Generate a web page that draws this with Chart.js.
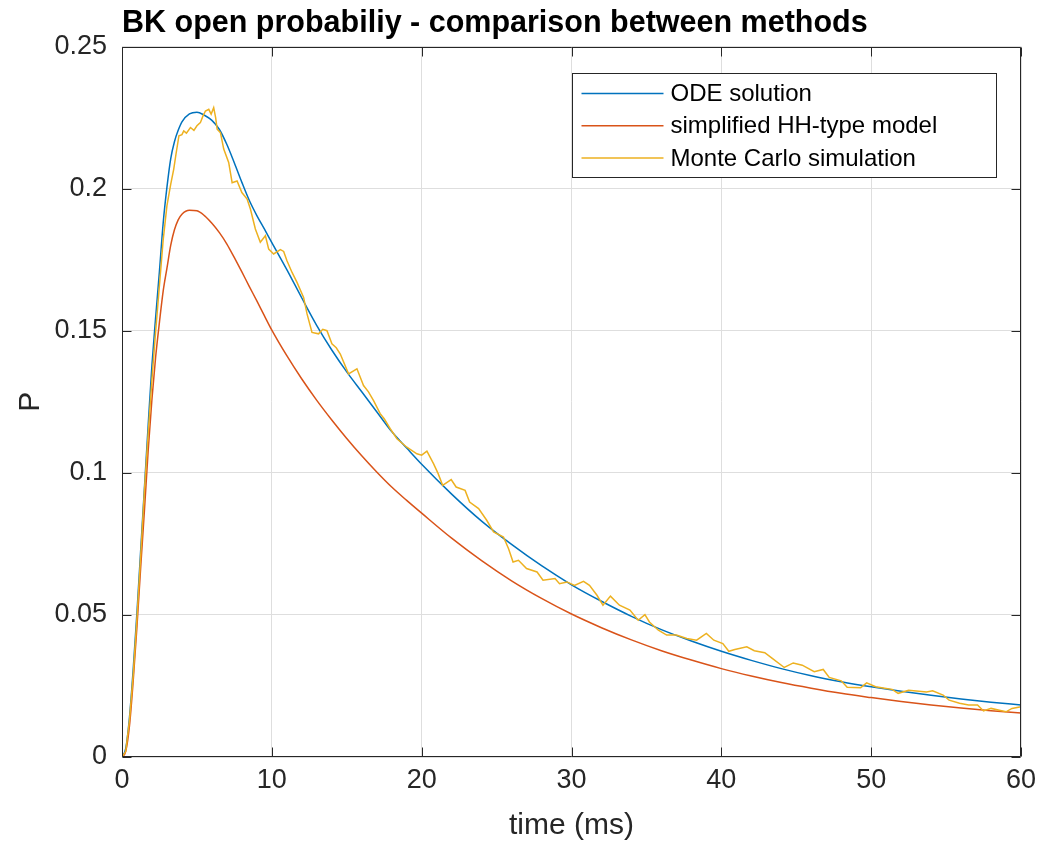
<!DOCTYPE html>
<html>
<head>
<meta charset="utf-8">
<title>BK open probability</title>
<script src="https://cdn.jsdelivr.net/npm/chart.js@4.4.1/dist/chart.umd.min.js"></script>
<style>
	html, body { margin: 0; padding: 0; background: #fff; }
</style>
</head>
<body>
<canvas id="chart" width="1037" height="841"></canvas>
<script>
// time grid (ms) of the two smooth curves
var smoothTime = [
	0, 0.25, 0.5, 0.75, 1, 1.25, 1.5, 1.75, 2, 2.25, 2.5, 2.75, 3, 3.25, 3.5, 3.75, 4,
	4.5, 5, 5.5, 6, 6.5, 7, 7.5, 8, 8.5, 9, 9.5, 10,
	11, 12, 13, 14, 15, 16, 17, 18, 19, 20,
	22, 24, 26, 28, 30, 32, 34, 36, 38, 40, 42, 44, 46, 48, 50, 52, 54, 56, 58, 60
];
var odeValues = [
	0, 0.003, 0.014, 0.031, 0.051, 0.073, 0.095, 0.117, 0.138, 0.155, 0.171, 0.188, 0.2005, 0.2105, 0.2165, 0.2205, 0.2235,
	0.2263, 0.2269, 0.2258, 0.2240, 0.2208, 0.2155, 0.2090, 0.2022, 0.1958, 0.1905, 0.1858, 0.1810,
	0.1715, 0.1615, 0.1518, 0.1432, 0.1355, 0.1285, 0.1215, 0.1145, 0.1087, 0.1030,
	0.0925, 0.0830, 0.0748, 0.0673, 0.0606, 0.0548, 0.0495, 0.0448, 0.0408, 0.0372, 0.0340, 0.0311, 0.0286, 0.0265, 0.0247, 0.0231, 0.0217, 0.0204, 0.0193, 0.0183
];
var hhValues = [
	0, 0.002, 0.011, 0.027, 0.046, 0.067, 0.087, 0.108, 0.126, 0.141, 0.153, 0.164, 0.172, 0.180, 0.1855, 0.1890, 0.1910,
	0.1924, 0.1922, 0.1905, 0.1878, 0.1845, 0.1805, 0.1757, 0.1707, 0.1655, 0.1605, 0.1553, 0.1502,
	0.1412, 0.1330, 0.1255, 0.1186, 0.1121, 0.1060, 0.1003, 0.0950, 0.0903, 0.0858,
	0.0770, 0.0691, 0.0620, 0.0558, 0.0503, 0.0455, 0.0412, 0.0374, 0.0341, 0.0311, 0.0285, 0.0262, 0.0242, 0.0224, 0.0209, 0.0195, 0.0183, 0.0172, 0.0163, 0.0155
];

// Monte Carlo run
var mcTime = [
	0, 0.25, 0.5, 0.75, 1, 1.25, 1.5, 1.75, 2, 2.25,
	2.5, 2.75, 3.0, 3.25, 3.45, 3.6, 3.8, 4.0, 4.12, 4.3,
	4.57, 4.8, 5.0, 5.23, 5.4, 5.57, 5.79, 5.95, 6.12, 6.25,
	6.35, 6.57, 6.79, 7.12, 7.35, 7.68, 8.0, 8.35, 8.57, 8.9,
	9.23, 9.57, 9.79, 10.12, 10.57, 10.79, 11.01, 11.35, 11.68, 12.12,
	12.35, 12.68, 13.12, 13.4, 13.68, 14.01, 14.3, 14.57, 15.12, 15.68,
	16.12, 16.45, 16.79, 17.23, 17.5, 17.9, 18.35, 19.01, 19.68, 20.0,
	20.35, 20.79, 21.1, 21.4, 21.97, 22.3, 22.9, 23.2, 23.8, 24.34,
	24.8, 25.46, 25.8, 26.1, 26.46, 27.0, 27.7, 28.1, 28.9, 29.2,
	29.7, 30.2, 30.8, 31.2, 31.7, 32.1, 32.6, 33.2, 33.9, 34.45,
	34.9, 35.2, 35.8, 36.35, 37.0, 37.7, 38.35, 39.0, 39.5, 40.1,
	40.5, 40.9, 41.7, 42.2, 42.9, 43.4, 44.2, 44.8, 45.4, 46.2,
	46.8, 47.2, 48.0, 48.4, 49.3, 49.7, 50.3, 51.0, 51.4, 51.8,
	52.5, 53.7, 54.1, 54.8, 55.2, 55.9, 56.5, 57.1, 57.5, 58.0,
	58.7, 59.0, 59.4, 60
];
var mcValues = [
	0, 0.002, 0.013, 0.029, 0.049, 0.071, 0.094, 0.114, 0.133, 0.150,
	0.166, 0.182, 0.194, 0.2015, 0.2068, 0.2120, 0.2186, 0.2190, 0.2203, 0.2195,
	0.2215, 0.2205, 0.2221, 0.2232, 0.2255, 0.2273, 0.2279, 0.2262, 0.2285, 0.2250,
	0.2209, 0.2197, 0.2139, 0.2092, 0.2021, 0.2027, 0.1986, 0.1963, 0.1928, 0.1858,
	0.1811, 0.1834, 0.1787, 0.1770, 0.1785, 0.1779, 0.1746, 0.1705, 0.1670, 0.1617,
	0.1559, 0.1494, 0.1489, 0.1505, 0.1500, 0.1454, 0.1440, 0.1418, 0.1348, 0.1366,
	0.1307, 0.1285, 0.1254, 0.1208, 0.1190, 0.1155, 0.1120, 0.1090, 0.1067, 0.1062,
	0.1076, 0.1032, 0.0997, 0.0956, 0.0976, 0.0950, 0.0938, 0.0897, 0.0874, 0.0833,
	0.0792, 0.0774, 0.0733, 0.0686, 0.0692, 0.0663, 0.0651, 0.0622, 0.0628, 0.0610,
	0.0616, 0.0604, 0.0618, 0.0604, 0.0569, 0.0534, 0.0566, 0.0534, 0.0517, 0.0481,
	0.0501, 0.0475, 0.0446, 0.0429, 0.0429, 0.0417, 0.0411, 0.0435, 0.0411, 0.0399,
	0.0372, 0.0378, 0.0388, 0.0374, 0.0367, 0.0347, 0.0315, 0.0331, 0.0323, 0.0300,
	0.0308, 0.0280, 0.0268, 0.0245, 0.0244, 0.0261, 0.0247, 0.0241, 0.0238, 0.0224,
	0.0235, 0.0229, 0.0233, 0.0218, 0.0200, 0.0189, 0.0183, 0.0183, 0.0162, 0.0171,
	0.0163, 0.0159, 0.0171, 0.0177
];

var xTickValues = [0, 10, 20, 30, 40, 50, 60];
var xTickLabels = ['0', '10', '20', '30', '40', '50', '60'];
var yTickValues = [0, 0.05, 0.1, 0.15, 0.2, 0.25];
var yTickLabels = ['0', '0.05', '0.1', '0.15', '0.2', '0.25'];

var seriesLabels = ['ODE solution', 'simplified HH-type model', 'Monte Carlo simulation'];
var seriesColors = ['#0072BD', '#D95319', '#EDB120'];

var titleText = 'BK open probabiliy - comparison between methods';
var xTitle = 'time (ms)';
var yTitle = 'P';

var fontFamily = '"Liberation Sans", Arial, Helvetica, sans-serif';
var axisColor = '#262626';

function toPoints(xs, ys) {
	return xs.map(function (x, i) {
		return {x: x, y: ys[i]};
	});
}

function crisp(v) {
	return Math.round(v) + 0.5;
}

// box, inward tick marks and boxed legend, the way MATLAB draws them
var matlabAxesPlugin = {
	id: 'matlabAxes',
	afterDatasetsDraw: function (chart) {
		var c = chart.ctx,
			a = chart.chartArea,
			xs = chart.scales.x,
			ys = chart.scales.y,
			tickLen = 9,
			left = crisp(a.left),
			right = crisp(a.right) - 1,
			top = crisp(a.top),
			bottom = crisp(a.bottom) - 1;

		c.save();
		c.strokeStyle = axisColor;
		c.lineWidth = 1;
		c.beginPath();
		c.rect(left, top, right - left, bottom - top);

		xs.ticks.forEach(function (t) {
			var px = crisp(xs.getPixelForValue(t.value));
			c.moveTo(px, bottom);
			c.lineTo(px, bottom - tickLen);
			c.moveTo(px, top);
			c.lineTo(px, top + tickLen);
		});
		ys.ticks.forEach(function (t) {
			var py = crisp(ys.getPixelForValue(t.value));
			c.moveTo(left, py);
			c.lineTo(left + tickLen, py);
			c.moveTo(right, py);
			c.lineTo(right - tickLen, py);
		});
		c.stroke();

		// legend
		var boxLeft = crisp(a.right - 449),
			boxTop = crisp(a.top + 26),
			boxW = 424,
			boxH = 104,
			rowGap = 32.3;

		c.fillStyle = '#fff';
		c.fillRect(boxLeft, boxTop, boxW, boxH);
		c.strokeStyle = axisColor;
		c.strokeRect(boxLeft, boxTop, boxW, boxH);

		c.font = '24px ' + fontFamily;
		c.textAlign = 'left';
		c.textBaseline = 'middle';
		chart.data.datasets.forEach(function (ds, i) {
			var rowY = boxTop + 20 + i * rowGap;
			c.strokeStyle = ds.borderColor;
			c.lineWidth = 1.5;
			c.beginPath();
			c.moveTo(boxLeft + 9, rowY);
			c.lineTo(boxLeft + 91, rowY);
			c.stroke();
			c.fillStyle = '#000';
			c.fillText(ds.label, boxLeft + 98, rowY + 1);
		});
		c.restore();
	}
};

// keep the plot box fixed: no extra room for overhanging tick labels
function noLabelPadding(scale) {
	scale.paddingLeft = 0;
	scale.paddingRight = 0;
	scale.paddingTop = 0;
	scale.paddingBottom = 0;
}

new Chart(document.getElementById('chart'), {
	type: 'line',
	data: {
		datasets: [{
			label: seriesLabels[0],
			data: toPoints(smoothTime, odeValues),
			borderColor: seriesColors[0],
			borderWidth: 1.5,
			pointRadius: 0,
			cubicInterpolationMode: 'monotone',
			fill: false,
			order: 3
		}, {
			label: seriesLabels[1],
			data: toPoints(smoothTime, hhValues),
			borderColor: seriesColors[1],
			borderWidth: 1.5,
			pointRadius: 0,
			cubicInterpolationMode: 'monotone',
			fill: false,
			order: 2
		}, {
			label: seriesLabels[2],
			data: toPoints(mcTime, mcValues),
			borderColor: seriesColors[2],
			borderWidth: 1.5,
			pointRadius: 0,
			tension: 0,
			fill: false,
			order: 1
		}]
	},
	options: {
		responsive: false,
		animation: false,
		devicePixelRatio: 1,
		layout: {
			padding: {left: 0, right: 16, top: 0, bottom: 0}
		},
		plugins: {
			legend: {display: false},
			tooltip: {enabled: false},
			title: {
				display: true,
				text: titleText,
				align: 'start',
				fullSize: false,
				color: '#000',
				font: {family: fontFamily, size: 30.5, weight: 'bold', lineHeight: 1.0},
				padding: {top: 8, bottom: 8}
			}
		},
		scales: {
			x: {
				type: 'linear',
				min: 0,
				max: 60,
				afterBuildTicks: function (scale) {
					scale.ticks = xTickValues.map(function (v) { return {value: v}; });
				},
				afterFit: function (scale) {
					scale.height = 84;
					noLabelPadding(scale);
				},
				ticks: {
					color: axisColor,
					padding: 7,
					maxRotation: 0,
					font: {family: fontFamily, size: 27, lineHeight: 1.2},
					callback: function (value, index) {
						return xTickLabels[index];
					}
				},
				grid: {color: '#dedede', lineWidth: 1, drawTicks: false},
				border: {display: false},
				title: {
					display: true,
					text: xTitle,
					color: axisColor,
					font: {family: fontFamily, size: 30, lineHeight: 1.0},
					padding: {top: 0, bottom: 0}
				}
			},
			y: {
				type: 'linear',
				min: 0,
				max: 0.25,
				afterBuildTicks: function (scale) {
					scale.ticks = yTickValues.map(function (v) { return {value: v}; });
				},
				afterFit: function (scale) {
					scale.width = 122;
					noLabelPadding(scale);
				},
				ticks: {
					color: axisColor,
					padding: 15,
					font: {family: fontFamily, size: 27, lineHeight: 1.2},
					callback: function (value, index) {
						return yTickLabels[index];
					}
				},
				grid: {color: '#dedede', lineWidth: 1, drawTicks: false},
				border: {display: false},
				title: {
					display: true,
					text: yTitle,
					color: axisColor,
					font: {family: fontFamily, size: 30, lineHeight: 1.0},
					padding: {top: 16, bottom: 0}
				}
			}
		}
	},
	plugins: [matlabAxesPlugin]
});
</script>
</body>
</html>
